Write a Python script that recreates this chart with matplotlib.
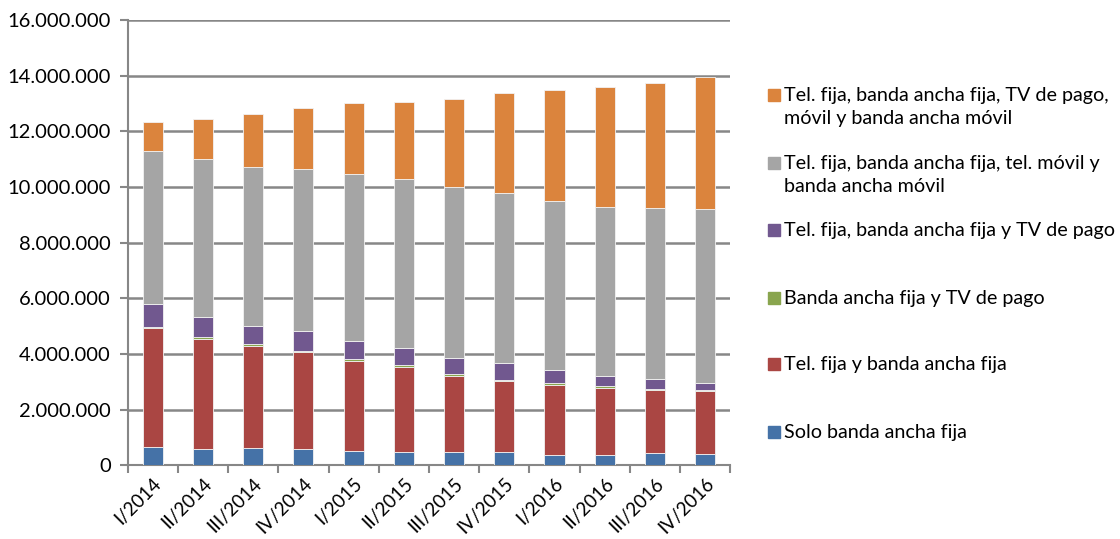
import matplotlib.pyplot as plt
import matplotlib.patches as mpatches
from matplotlib.ticker import FuncFormatter
import numpy as np

plt.rcParams['font.family'] = ['Lato', 'DejaVu Sans']

quarters = ["I/2014", "II/2014", "III/2014", "IV/2014", "I/2015", "II/2015",
            "III/2015", "IV/2015", "I/2016", "II/2016", "III/2016", "IV/2016"]

# values in millions
solo_baf = [0.66, 0.575, 0.60, 0.565, 0.50, 0.456, 0.456, 0.456, 0.37, 0.37, 0.42, 0.40]
tf_baf = [4.26, 3.955, 3.69, 3.485, 3.24, 3.084, 2.744, 2.554, 2.52, 2.42, 2.27, 2.25]
baf_tv = [0.06, 0.06, 0.06, 0.06, 0.06, 0.06, 0.06, 0.06, 0.06, 0.06, 0.06, 0.06]
tf_baf_tv = [0.80, 0.72, 0.65, 0.70, 0.65, 0.62, 0.59, 0.61, 0.48, 0.36, 0.36, 0.25]
tf_baf_movil = [5.50, 5.69, 5.72, 5.82, 6.01, 6.08, 6.14, 6.10, 6.06, 6.07, 6.13, 6.24]
todo = [1.04, 1.45, 1.89, 2.21, 2.55, 2.75, 3.16, 3.59, 4.00, 4.32, 4.50, 4.76]

series = [
    (solo_baf, "#4572A7", "Solo banda ancha fija"),
    (tf_baf, "#AA4643", "Tel. fija y banda ancha fija"),
    (baf_tv, "#89A54E", "Banda ancha fija y TV de pago"),
    (tf_baf_tv, "#71588F", "Tel. fija, banda ancha fija y TV de pago"),
    (tf_baf_movil, "#A5A5A5", "Tel. fija, banda ancha fija, tel. móvil y\nbanda ancha móvil"),
    (todo, "#DB843D", "Tel. fija, banda ancha fija, TV de pago,\nmóvil y banda ancha móvil"),
]

fig = plt.figure(figsize=(11.2, 5.39), dpi=100)
ax = fig.add_axes([0.114, 0.137, 0.538, 0.826])

x = np.arange(len(quarters))
bottom = np.zeros(len(quarters))
for vals, color, label in series:
    v = np.array(vals) * 1e6
    ax.bar(x, v, 0.4, bottom=bottom, color=color, edgecolor="#f2f2f2",
           linewidth=0.6, zorder=3)
    bottom += v

ax.set_ylim(0, 16e6)
ax.set_xlim(-0.5, len(quarters) - 0.5)
ax.set_yticks(np.arange(0, 16e6 + 1, 2e6))
ax.yaxis.set_major_formatter(FuncFormatter(lambda v, p: f"{int(v):,}".replace(",", ".")))
ax.grid(axis="y", color="#878787", linewidth=1.8, zorder=0)

ax.set_xticks(x)
ax.set_xticklabels(quarters, rotation=45, ha="right", rotation_mode="anchor")
ax.set_xticks(np.arange(-0.5, len(quarters)), minor=True)
ax.tick_params(axis="x", which="major", length=0, pad=7, labelsize=13.5)
ax.tick_params(axis="x", which="minor", length=6, color="#878787", width=1.5)
ax.tick_params(axis="y", length=6, color="#878787", width=1.5, labelsize=14.5, pad=6)

for s in ["top", "right"]:
    ax.spines[s].set_visible(False)
for s in ["left", "bottom"]:
    ax.spines[s].set_color("#878787")
    ax.spines[s].set_linewidth(1.5)

# legend drawn on the right, top entry = last series
W, H = 1120, 539
line_y = [95, 163, 230, 298, 364, 432]
for (vals, color, label), yy in zip(series[::-1], line_y):
    fig.patches.append(mpatches.Rectangle((768 / W, 1 - (yy + 6) / H), 12 / W, 12 / H,
                                          transform=fig.transFigure, color=color))
    fig.text(784 / W, 1 - (yy - 8) / H, label, fontsize=14.2, va="top", ha="left",
             linespacing=1.45)

fig.savefig("out.png", dpi=100)
